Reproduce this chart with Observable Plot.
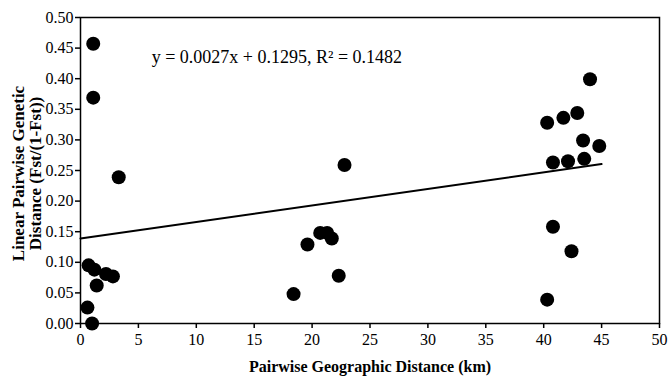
<!DOCTYPE html>
<html>
<head>
<meta charset="utf-8">
<script src="https://cdn.jsdelivr.net/npm/d3@7"></script>
<script src="https://cdn.jsdelivr.net/npm/@observablehq/plot@0.6"></script>
<style>
  html, body { margin: 0; padding: 0; background: #fff; }
  #chart { width: 669px; height: 378px; }
</style>
</head>
<body>
<div id="chart"></div>
<script>
// Pairwise geographic distance (km)
const distKm = [1.1, 1.1, 3.3, 0.7, 1.2, 1.4, 2.2, 2.8, 0.6, 1.0,
                18.4, 19.6, 20.7, 21.3, 21.7, 22.3, 22.8,
                40.3, 41.7, 42.9, 44.0, 43.4, 44.8, 40.8, 42.1, 43.5, 40.8, 42.4, 40.3];
// Linear pairwise genetic distance Fst/(1-Fst)
const genDist = [0.457, 0.369, 0.239, 0.095, 0.088, 0.062, 0.081, 0.077, 0.026, 0.000,
                 0.048, 0.129, 0.148, 0.148, 0.139, 0.078, 0.259,
                 0.328, 0.336, 0.344, 0.399, 0.299, 0.290, 0.263, 0.265, 0.269, 0.158, 0.118, 0.039];
// Regression line endpoints (as drawn)
const trendX = [0, 45];
const trendY = [0.139, 0.2605];
// Ticks
const xTicks = [0, 5, 10, 15, 20, 25, 30, 35, 40, 45, 50];
const yTicks = [0, 0.05, 0.10, 0.15, 0.20, 0.25, 0.30, 0.35, 0.40, 0.45, 0.50];
const equationText = "y = 0.0027x + 0.1295, R² = 0.1482";
const xTitle = "Pairwise Geographic Distance (km)";
const yTitleLine1 = "Linear Pairwise Genetic";
const yTitleLine2 = "Distance (Fst/(1-Fst))";

const points = distKm.map((d, i) => ({x: d, y: genDist[i]}));
const trend = trendX.map((d, i) => ({x: d, y: trendY[i]}));

const chart = Plot.plot({
  width: 669,
  height: 378,
  marginLeft: 80,
  marginRight: 10,
  marginTop: 17,
  marginBottom: 55,
  style: {fontFamily: "'Liberation Serif', 'Times New Roman', serif", fontSize: "16px", color: "#000", background: "#fff"},
  x: {domain: [0, 50], ticks: xTicks, label: null},
  y: {domain: [0, 0.5], ticks: yTicks, label: null},
  marks: [
    Plot.frame({stroke: "#000", strokeWidth: 1.5}),
    Plot.axisX({ticks: xTicks, tickSize: 5, tickPadding: 5, tickFormat: d3.format("d"), fontSize: 16, stroke: "#000", strokeWidth: 1.5, label: null}),
    Plot.axisY({ticks: yTicks, tickSize: 5, tickPadding: 2, tickFormat: d3.format(".2f"), fontSize: 16, stroke: "#000", strokeWidth: 1.5, label: null}),
    Plot.line(trend, {x: "x", y: "y", stroke: "#000", strokeWidth: 2}),
    Plot.dot(points, {x: "x", y: "y", r: 7, fill: "#000", stroke: "none"}),
    Plot.text([equationText], {x: 6.15, y: 0.435, text: d => d, textAnchor: "start", lineAnchor: "middle", fontSize: 18, fill: "#000"}),
    Plot.text([xTitle], {frameAnchor: "bottom", dy: 43, text: d => d, lineAnchor: "middle", fontSize: 16, fontWeight: "bold", fill: "#000"}),
    Plot.text([yTitleLine1], {frameAnchor: "left", dx: -62, dy: 3, rotate: -90, text: d => d, textAnchor: "middle", lineAnchor: "middle", fontSize: 17, fontWeight: "bold", fill: "#000"}),
    Plot.text([yTitleLine2], {frameAnchor: "left", dx: -45, dy: 3, rotate: -90, text: d => d, textAnchor: "middle", lineAnchor: "middle", fontSize: 17, fontWeight: "bold", fill: "#000"})
  ]
});
document.getElementById("chart").appendChild(chart);
</script>
</body>
</html>
